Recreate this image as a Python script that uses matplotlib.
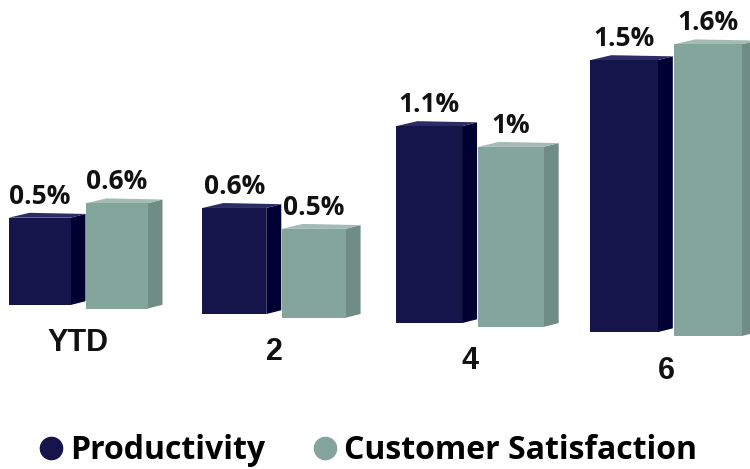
import matplotlib.pyplot as plt
from matplotlib.patches import Polygon
from matplotlib.lines import Line2D

# data
categories = ["YTD", "2", "4", "6"]
productivity = [0.5, 0.6, 1.1, 1.5]
satisfaction = [0.6, 0.5, 1.0, 1.6]
prod_labels = ["0.5%", "0.6%", "1.1%", "1.5%"]
sat_labels = ["0.6%", "0.5%", "1%", "1.6%"]

# styles
navy = {"front": "#15154b", "side": "#000033", "top": "#2c2c64"}
sage = {"front": "#84a59c", "side": "#6f8d85", "top": "#a2bbb3"}
W, H = 750, 469
x_start = 78.0    # pixel column of first group
px_x = 196.0      # pixels per category step
px_y = 175.0      # pixels per percent
base_px = 306.8   # baseline pixel row at first group
tilt = 0.0464 * px_x / px_y   # floor sinks to the right
persp = 0.013     # bars grow slightly taller to the right
spread = 0.03     # and slightly wider
depth_x, depth_y = 15 / px_x, 3.8 / px_y
bar_w = 62 / px_x
off = 38.5 / px_x

fig = plt.figure(figsize=(W / 100, H / 100), dpi=100)
ax = fig.add_axes([0, 0, 1, 1])
ax.set_xlim(-x_start / px_x, (W - x_start) / px_x)
ax.set_ylim(base_px / px_y - H / px_y, base_px / px_y)
ax.axis("off")


def draw_series(vals, labels, sign, col):
    idx = range(len(vals))
    xs = [i + sign * off * (1 + spread * i) for i in idx]
    widths = [bar_w * (1 + spread * i) for i in idx]
    bottoms = [-tilt * x for x in xs]
    heights = [v * (1 + persp * x) for v, x in zip(vals, xs)]
    bars = ax.bar(xs, heights, width=widths, bottom=bottoms, color=col["front"],
                  linewidth=0, zorder=3)
    for b, lab in zip(bars, labels):
        x0, y0 = b.get_x(), b.get_y()
        x1, y1 = x0 + b.get_width(), y0 + b.get_height()
        side = [(x1, y0), (x1 + depth_x, y0 + depth_y),
                (x1 + depth_x, y1 + depth_y), (x1, y1)]
        top = [(x0, y1), (x1, y1), (x1 + depth_x, y1 + depth_y),
               (x0 + depth_x * 1.4, y1 + depth_y * 1.3)]
        ax.add_patch(Polygon(side, closed=True, color=col["side"], lw=0, zorder=2))
        ax.add_patch(Polygon(top, closed=True, color=col["top"], lw=0, zorder=2))
        ax.annotate(lab, ((x0 + x1) / 2, y1), xytext=(0, 10), textcoords="offset points",
                    ha="center", va="baseline", fontsize=19, fontweight="bold",
                    family="Open Sans", color="#111111", zorder=5)


draw_series(productivity, prod_labels, -1, navy)
draw_series(satisfaction, sat_labels, 1, sage)

for i, c in enumerate(categories):
    ax.annotate(c, (i, -tilt * i), xytext=(0, -32), textcoords="offset points",
                ha="center", va="baseline", fontsize=22, fontweight="bold",
                family="Liberation Sans", color="#111111")

handles = [Line2D([], [], marker="o", ls="", ms=16, color=navy["front"]),
           Line2D([], [], marker="o", ls="", ms=16, color=sage["front"])]
fig.legend(handles, ["Productivity", "Customer Satisfaction"], loc="lower left",
           bbox_to_anchor=(0.013, -0.058), ncol=2, frameon=False, handletextpad=0.2,
           columnspacing=1.45, handlelength=0.8,
           prop={"family": "Open Sans", "weight": "bold", "size": 23})

fig.savefig("out.png", dpi=100)
